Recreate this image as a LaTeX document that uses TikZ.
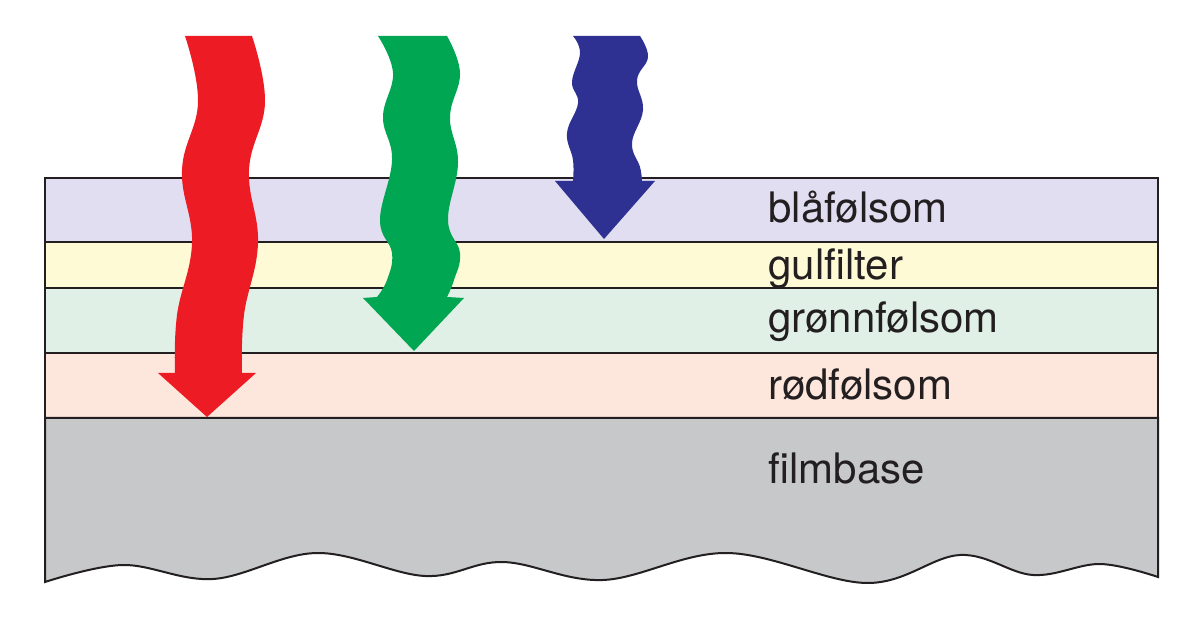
\documentclass[tikz,border=0pt]{standalone}
\usepackage{fontspec}
\setmainfont{TeX Gyre Heros}
\definecolor{inkblack}{RGB}{35,31,32}
\definecolor{blaalag}{RGB}{224,222,240}
\definecolor{gullag}{RGB}{255,250,214}
\definecolor{groennlag}{RGB}{225,240,230}
\definecolor{roedlag}{RGB}{253,230,220}
\definecolor{baselag}{RGB}{199,200,202}
\definecolor{roedpil}{RGB}{237,28,36}
\definecolor{groennpil}{RGB}{0,166,81}
\definecolor{blaapil}{RGB}{46,49,146}

\begin{document}
\begin{tikzpicture}[x=0.5pt,y=-0.5pt,
  lbl/.style={anchor=base west,inner sep=0pt,text=inkblack,font=\fontsize{21}{24}\selectfont},
  layerline/.style={draw=inkblack,line width=1pt}]
\useasboundingbox (0,0) rectangle (1200,630);
% lagene
\fill[blaalag] (45,178) rectangle (1158,242);
\fill[gullag] (45,242) rectangle (1158,288);
\fill[groennlag] (45,288) rectangle (1158,353);
\fill[roedlag] (45,353) rectangle (1158,418);
\filldraw[fill=baselag,layerline] (45,418) -- (1158,418) -- (1158,577)
  -- plot[smooth,tension=0.6] coordinates {(1158,577) (1100,564) (1033,575) (960,555) (867,583) (727,553) (603,580) (503,562) (425,576) (317,553) (213,579) (123,565) (45,582)}
  -- cycle;
\draw[layerline] (45,418) -- (45,178) -- (1158,178) -- (1158,418);
\draw[layerline] (45,242) -- (1158,242) (45,288) -- (1158,288) (45,353) -- (1158,353);
% pilene
\fill[roedpil] (252,36)
  -- plot[smooth,tension=0.7] coordinates {(252,36) (265,102) (249,170) (258,243) (244,315) (242,373)}
  -- (256,373) -- (207,417) -- (158,373) -- (175,373)
  -- plot[smooth,tension=0.7] coordinates {(175,373) (177,315) (192,243) (182,170) (198,102) (185,36)}
  -- cycle;
\fill[groennpil] (447,36)
  -- plot[smooth,tension=0.7] coordinates {(447,36) (460,73) (450,117) (458,163) (448,220) (460,253) (454,280) (447,297)}
  -- (464,298) -- (414,351) -- (363,298) -- (377,297)
  -- plot[smooth,tension=0.7] coordinates {(377,297) (387,280) (392,253) (380,220) (392,160) (383,117) (393,73) (378,36)}
  -- cycle;
\fill[blaapil] (640,36)
  -- plot[smooth,tension=0.7] coordinates {(640,36) (648,57) (637,80) (643,110) (632,143) (640,167) (642,181)}
  -- (655,181) -- (604,239) -- (555,181) -- (573,181)
  -- plot[smooth,tension=0.7] coordinates {(573,181) (573,160) (567,133) (578,103) (572,82) (580,53) (573,36)}
  -- cycle;
% tekster
\node[lbl] (blaa) at (768,223) {blåfølsom};
\node[lbl] (gul) at (768,280) {gulfilter};
\node[lbl] (groenn) at (768,333) {grønnfølsom};
\node[lbl] (roed) at (768,400) {rødfølsom};
\node[lbl] (base) at (768,484) {filmbase};
\end{tikzpicture}
\end{document}
